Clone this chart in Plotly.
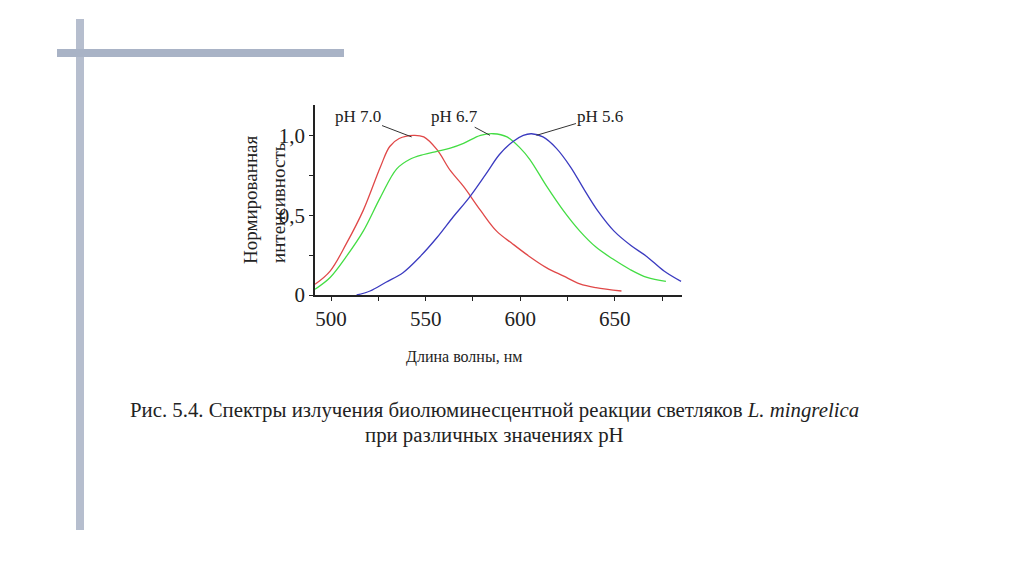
import plotly.graph_objects as go

# Data
wl_70 = [491.5, 499.5, 508, 517, 526, 531, 536, 543.5, 549, 556, 563, 570, 579, 587.5, 596, 605, 614, 622.7, 631.5, 640, 653.5]
int_70 = [0.067, 0.15, 0.32, 0.53, 0.80, 0.93, 0.98, 1.0, 0.99, 0.91, 0.78, 0.68, 0.53, 0.40, 0.32, 0.24, 0.17, 0.12, 0.07, 0.046, 0.025]

wl_67 = [491.5, 499.5, 508, 517, 526, 534.7, 541.7, 549, 556, 563, 570, 579, 585.7, 593, 600, 605, 614, 622.7, 631.5, 640, 649, 658, 667, 677]
int_67 = [0.036, 0.11, 0.24, 0.40, 0.61, 0.79, 0.85, 0.88, 0.90, 0.92, 0.95, 1.0, 1.01, 0.99, 0.92, 0.85, 0.68, 0.53, 0.40, 0.30, 0.225, 0.16, 0.11, 0.085]

wl_56 = [513.5, 520.6, 529, 538, 547, 556, 564.6, 573, 582, 589, 596, 601.6, 606, 612, 619, 626.7, 633.8, 640.8, 649.6, 658.5, 667, 676, 685]
int_56 = [0.0, 0.025, 0.08, 0.14, 0.24, 0.36, 0.49, 0.61, 0.76, 0.88, 0.96, 1.0, 1.01, 0.99, 0.92, 0.80, 0.66, 0.53, 0.40, 0.31, 0.24, 0.15, 0.085]

x_tickvals = [500, 525, 550, 575, 600, 625, 650, 675]
x_ticktext = ["500", "", "550", "", "600", "", "650", ""]
y_tickvals = [0, 0.25, 0.5, 0.75, 1.0]
y_ticktext = ["0", "", "0,5", "", "1,0"]

labels = ["pH 7.0", "pH 6.7", "pH 5.6"]
label_pos = [(514, 1.12), (565, 1.12), (642.4, 1.12)]
label_tip = [(542.6, 0.99), (584, 1.0), (608.6, 1.0)]

FONT = "Liberation Serif"
OFF = 8  # page body margin

fig = go.Figure()
fig.add_trace(go.Scatter(x=wl_70, y=int_70, mode="lines", line=dict(color="#e04848", width=1.3, shape="spline"), showlegend=False))
fig.add_trace(go.Scatter(x=wl_67, y=int_67, mode="lines", line=dict(color="#44dd44", width=1.3, shape="spline"), showlegend=False))
fig.add_trace(go.Scatter(x=wl_56, y=int_56, mode="lines", line=dict(color="#3b3bc0", width=1.3, shape="spline"), showlegend=False))

L, R, T, B = 315 - OFF, 682 - OFF, 105 - OFF, 295 - OFF
W, H = 1024, 574
pw, ph = R - L, B - T

def px(x):
    return (x - OFF - L) / pw

def py(y):
    return (B - (y - OFF)) / ph

annotations = []
for txt, (ax, ay), (tx, ty) in zip(labels, label_pos, label_tip):
    annotations.append(dict(x=tx, y=ty, ax=ax, ay=ay, xref="x", yref="y", axref="x", ayref="y",
                            text=txt, showarrow=True, arrowhead=0, arrowwidth=1, arrowcolor="#333333",
                            font=dict(family=FONT, size=17, color="#222222")))

def note(x, y, text, size, angle=0):
    annotations.append(dict(x=px(x), y=py(y), xref="paper", yref="paper", text=text,
                            xanchor="center", yanchor="middle", showarrow=False, textangle=angle,
                            font=dict(family=FONT, size=size, color="#222222")))

note(464, 357, "Длина волны, нм", 16)
note(250, 200, "Нормированная", 19, -90)
note(278, 203, "интенсивность", 19, -90)
note(494, 410, "Рис. 5.4. Спектры излучения биолюминесцентной реакции светляков <i>L. mingrelica</i>", 20.8)
note(494, 435, "при различных значениях pH", 20.8)

shapes = [
    dict(type="rect", xref="paper", yref="paper", x0=px(57), x1=px(344), y0=py(57), y1=py(49),
         fillcolor="#a9b3c6", line=dict(width=0), layer="below"),
    dict(type="rect", xref="paper", yref="paper", x0=px(76), x1=px(84), y0=py(530), y1=py(19),
         fillcolor="#a9b3c6", line=dict(width=0), opacity=0.85, layer="below"),
]

fig.update_layout(
    width=W, height=H,
    margin=dict(l=L, r=W - R, t=T, b=H - B),
    paper_bgcolor="white", plot_bgcolor="white",
    annotations=annotations, shapes=shapes,
    xaxis=dict(range=[491.5, 685.5], tickvals=x_tickvals, ticktext=x_ticktext, ticks="outside", ticklen=4,
               tickcolor="#222222", showline=True, linecolor="#222222", linewidth=1.5, showgrid=False, zeroline=False,
               tickfont=dict(family=FONT, size=21, color="#222222")),
    yaxis=dict(range=[0, 1.19], tickvals=y_tickvals, ticktext=y_ticktext, ticks="outside", ticklen=4,
               tickcolor="#222222", showline=True, linecolor="#222222", linewidth=1.5, showgrid=False, zeroline=False,
               tickfont=dict(family=FONT, size=21, color="#222222")),
)

fig.write_html("out.html")
